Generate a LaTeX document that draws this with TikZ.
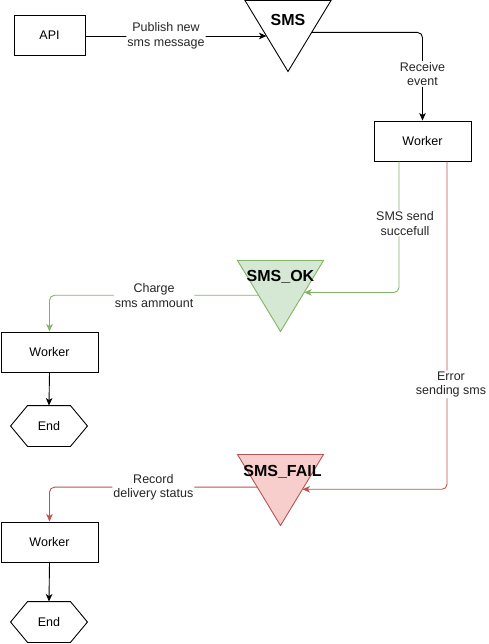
\documentclass[tikz,border=0pt]{standalone}
\usepackage{fontspec}
\setmainfont{Liberation Sans}
\usetikzlibrary{arrows.meta,calc}

\definecolor{okline}{HTML}{82B366}
\definecolor{okfill}{HTML}{D5E8D4}
\definecolor{failline}{HTML}{B85450}
\definecolor{failfill}{HTML}{F8CECC}

\tikzset{
  box/.style={draw, minimum width=97pt, minimum height=40pt, inner sep=0pt},
  hexbox/.style={minimum width=76pt, minimum height=40pt, inner sep=0pt},
  queue/.style={minimum width=86pt, minimum height=71pt, inner sep=0pt, outer sep=0pt},
  title/.style={font=\bfseries\fontsize{16}{18}\selectfont, inner sep=0pt},
  lbl/.style={fill=white, text=black!85, inner sep=1pt, align=center},
  flow/.style={-{Stealth[length=7.5pt, width=6.5pt, inset=2pt]}, rounded corners=5pt}
}

\begin{document}
\begin{tikzpicture}[x=1pt, y=-1pt, font=\fontsize{12.5}{14.5}\selectfont, line width=0.9pt]
      \useasboundingbox (0,0) rectangle (488,644);
      % boxes
      \node[box, minimum width=71pt] (api) at (49.5,35) {API};
      \node[box] (w1) at (422.5,141) {Worker};
      \node[box] (w2) at (49.5,352) {Worker};
      \node[box] (w3) at (49.5,542) {Worker};
      \node[hexbox] (e1) at (49,426) {End};
      \node[hexbox] (e2) at (49,622) {End};
      \foreach \e in {e1,e2}
        \draw (\e.west) -- ($(\e.north west)+(17,0)$) -- ($(\e.north east)+(-17,0)$)
          -- (\e.east) -- ($(\e.south east)+(-17,0)$) -- ($(\e.south west)+(17,0)$) -- cycle;
      % queues
      \node[queue] (sms) at (288,36) {};
      \node[queue] (ok) at (280.5,296) {};
      \node[queue] (fail) at (280.5,490) {};
      \draw (sms.north west) -- (sms.north east) -- (sms.south) -- cycle;
      \draw[draw=okline, fill=okfill] (ok.north west) -- (ok.north east) -- (ok.south) -- cycle;
      \draw[draw=failline, fill=failfill] (fail.north west) -- (fail.north east) -- (fail.south) -- cycle;
      \node[title] (smst) at ($(sms.north)+(0,19.5)$) {SMS};
      \node[title] (okt) at ($(ok.north)+(0,16)$) {SMS\_OK};
      \node[title] (failt) at ($(fail.north)+(2,17.5)$) {SMS\_FAIL};
      \coordinate (smsL) at ($(sms.north west)!0.5!(sms.south)$);
      \coordinate (smsR) at ($(sms.north east)!0.45!(sms.south)$);
      \coordinate (okR) at ($(ok.north east)!0.45!(ok.south)$);
      \coordinate (okL) at ($(ok.north west)!0.49!(ok.south)$);
      \coordinate (failR) at ($(fail.north east)!0.49!(fail.south)$);
      \coordinate (failL) at ($(fail.north west)!0.46!(fail.south)$);
      % connectors
      \draw[flow] (api.east |- smsL) -- (smsL) node[lbl, pos=0.445] {Publish new\\sms message};
      \draw[flow] (smsR) -| (w1.north) node[lbl, pos=0.736] {Receive\\event};
      \draw[flow, okline] ($(w1.south)+(-23.5,0)$) |- (okR) node[lbl, pos=0.237, xshift=6pt] {SMS send\\succefull};
      \draw[flow, okline] (okL) -| (w2.north) node[lbl, pos=0.25] {Charge\\sms ammount};
      \draw[flow] (w2.south) -- (e1.north);
      \draw[flow, failline] ($(w1.south)+(24.5,0)$) |- (failR) node[lbl, pos=0.34, xshift=4pt] {Error\\sending sms};
      \draw[flow, failline] (failL) -| (w3.north) node[lbl, pos=0.25] {Record\\delivery status};
      \draw[flow] (w3.south) -- (e2.north);
\end{tikzpicture}
\end{document}
